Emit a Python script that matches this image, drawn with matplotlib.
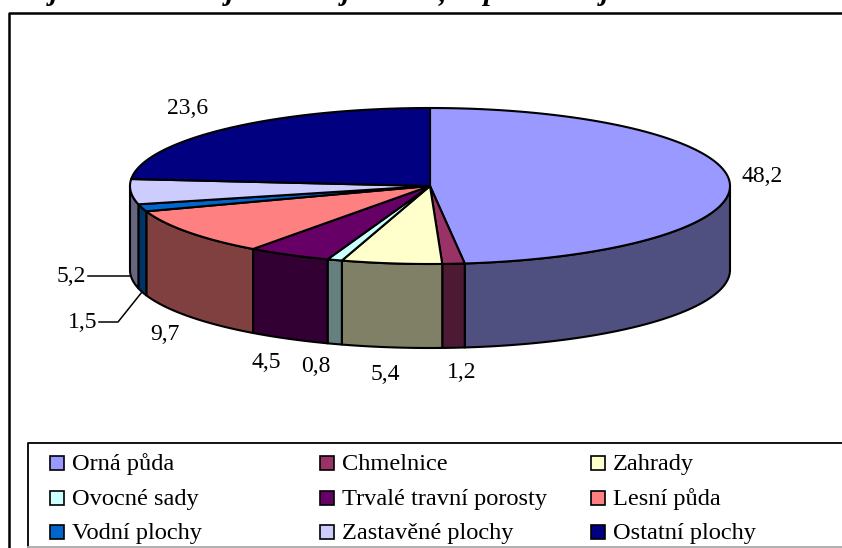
import numpy as np
import matplotlib
matplotlib.use("Agg")
import matplotlib.pyplot as plt
from matplotlib.patches import Rectangle

kategorie = ["Orná půda", "Chmelnice", "Zahrady", "Ovocné sady", "Trvalé travní porosty",
             "Lesní půda", "Vodní plochy", "Zastavěné plochy", "Ostatní plochy"]
hodnoty = [48.2, 1.2, 5.4, 0.8, 4.5, 9.7, 1.5, 5.2, 23.6]
popisky = ["48,2", "1,2", "5,4", "0,8", "4,5", "9,7", "1,5", "5,2", "23,6"]
barvy = ["#9999FF", "#993366", "#FFFFCC", "#CCFFFF", "#660066",
         "#FF8080", "#0066CC", "#CCCCFF", "#000080"]
barvy_bok = ["#4F4F80", "#4D1A33", "#808066", "#668080", "#330033",
             "#804040", "#003366", "#666680", "#000040"]
# only the lower ends of the title letters survive at the top edge
zbytky_nadpisu = ["j", "j", "j", ",", "p", "j"]

plt.rcParams["font.family"] = ["Liberation Serif", "DejaVu Serif"]

# pixel coordinates of the reference, y going down
fig = plt.figure(figsize=(8.42, 5.48), dpi=100)
ax = fig.add_axes([0, 0, 1, 1])
ax.set_xlim(0, 842)
ax.set_ylim(548, 0)
ax.axis("off")

cx, cy, rx, ry, hloubka = 430, 186, 300, 78, 84


def bod(t):
    return cx + rx * np.sin(t), cy - ry * np.cos(t)


# cut off title
for x0, s in zip([54, 230, 346, 442, 490, 605], zbytky_nadpisu):
    ax.text(x0, 0, s, fontsize=21, fontweight="bold", fontstyle="italic",
            ha="center", va="baseline", clip_on=True)

# frame of the chart
ax.plot([8.5, 8.5, 842], [548, 13, 13], color="black", lw=1.8, clip_on=False)

kraje = np.concatenate([[0], np.cumsum(hodnoty)]) / np.sum(hodnoty) * 2 * np.pi

# front wall
for i in range(len(hodnoty)):
    a, b = max(kraje[i], np.pi / 2), min(kraje[i + 1], 3 * np.pi / 2)
    if b <= a:
        continue
    t = np.linspace(a, b, 80)
    x, y = bod(t)
    ax.fill(np.r_[x, x[::-1]], np.r_[y, y[::-1] + hloubka], facecolor=barvy_bok[i],
            edgecolor="black", lw=1.5, joinstyle="round", zorder=2)

# top of the pie
for i in range(len(hodnoty)):
    t = np.linspace(kraje[i], kraje[i + 1], 200)
    x, y = bod(t)
    ax.fill(np.r_[cx, x], np.r_[cy, y], facecolor=barvy[i],
            edgecolor="black", lw=1.5, joinstyle="round", zorder=3)

# data labels
pozice = [(762, 177), (462, 372), (385, 375), (316, 367), (266, 362),
          (165, 334), (83, 323), (71, 277), (188, 108)]
for p, s in zip(pozice, popisky):
    ax.text(p[0], p[1], s, fontsize=17, ha="center", va="center", color="black", zorder=5)

# leader lines
ax.plot([88, 130], [276, 276], color="black", lw=1.1, zorder=4)
ax.plot([99, 118, 142], [322, 322, 292], color="black", lw=1.1, zorder=4)

# legend box, cut by the bottom edge
ax.plot([28, 28, 842], [548, 443, 443], color="black", lw=1.3, clip_on=False, zorder=4)
ax.plot([28, 842], [547, 547], color="#aaaaaa", lw=1.3, clip_on=False, zorder=4)
sloupce = [50, 320, 591]
radky = [463, 497.5, 532]
for i, nazev in enumerate(kategorie):
    x0 = sloupce[i % 3]
    y0 = radky[i // 3]
    ax.add_patch(Rectangle((x0, y0 - 7), 14, 14, facecolor=barvy[i], edgecolor="black",
                           lw=1.2, zorder=5))
    ax.text(x0 + 22, y0 + 7, nazev, fontsize=17.6, ha="left", va="baseline", zorder=5)

fig.savefig("out.png", dpi=100)
